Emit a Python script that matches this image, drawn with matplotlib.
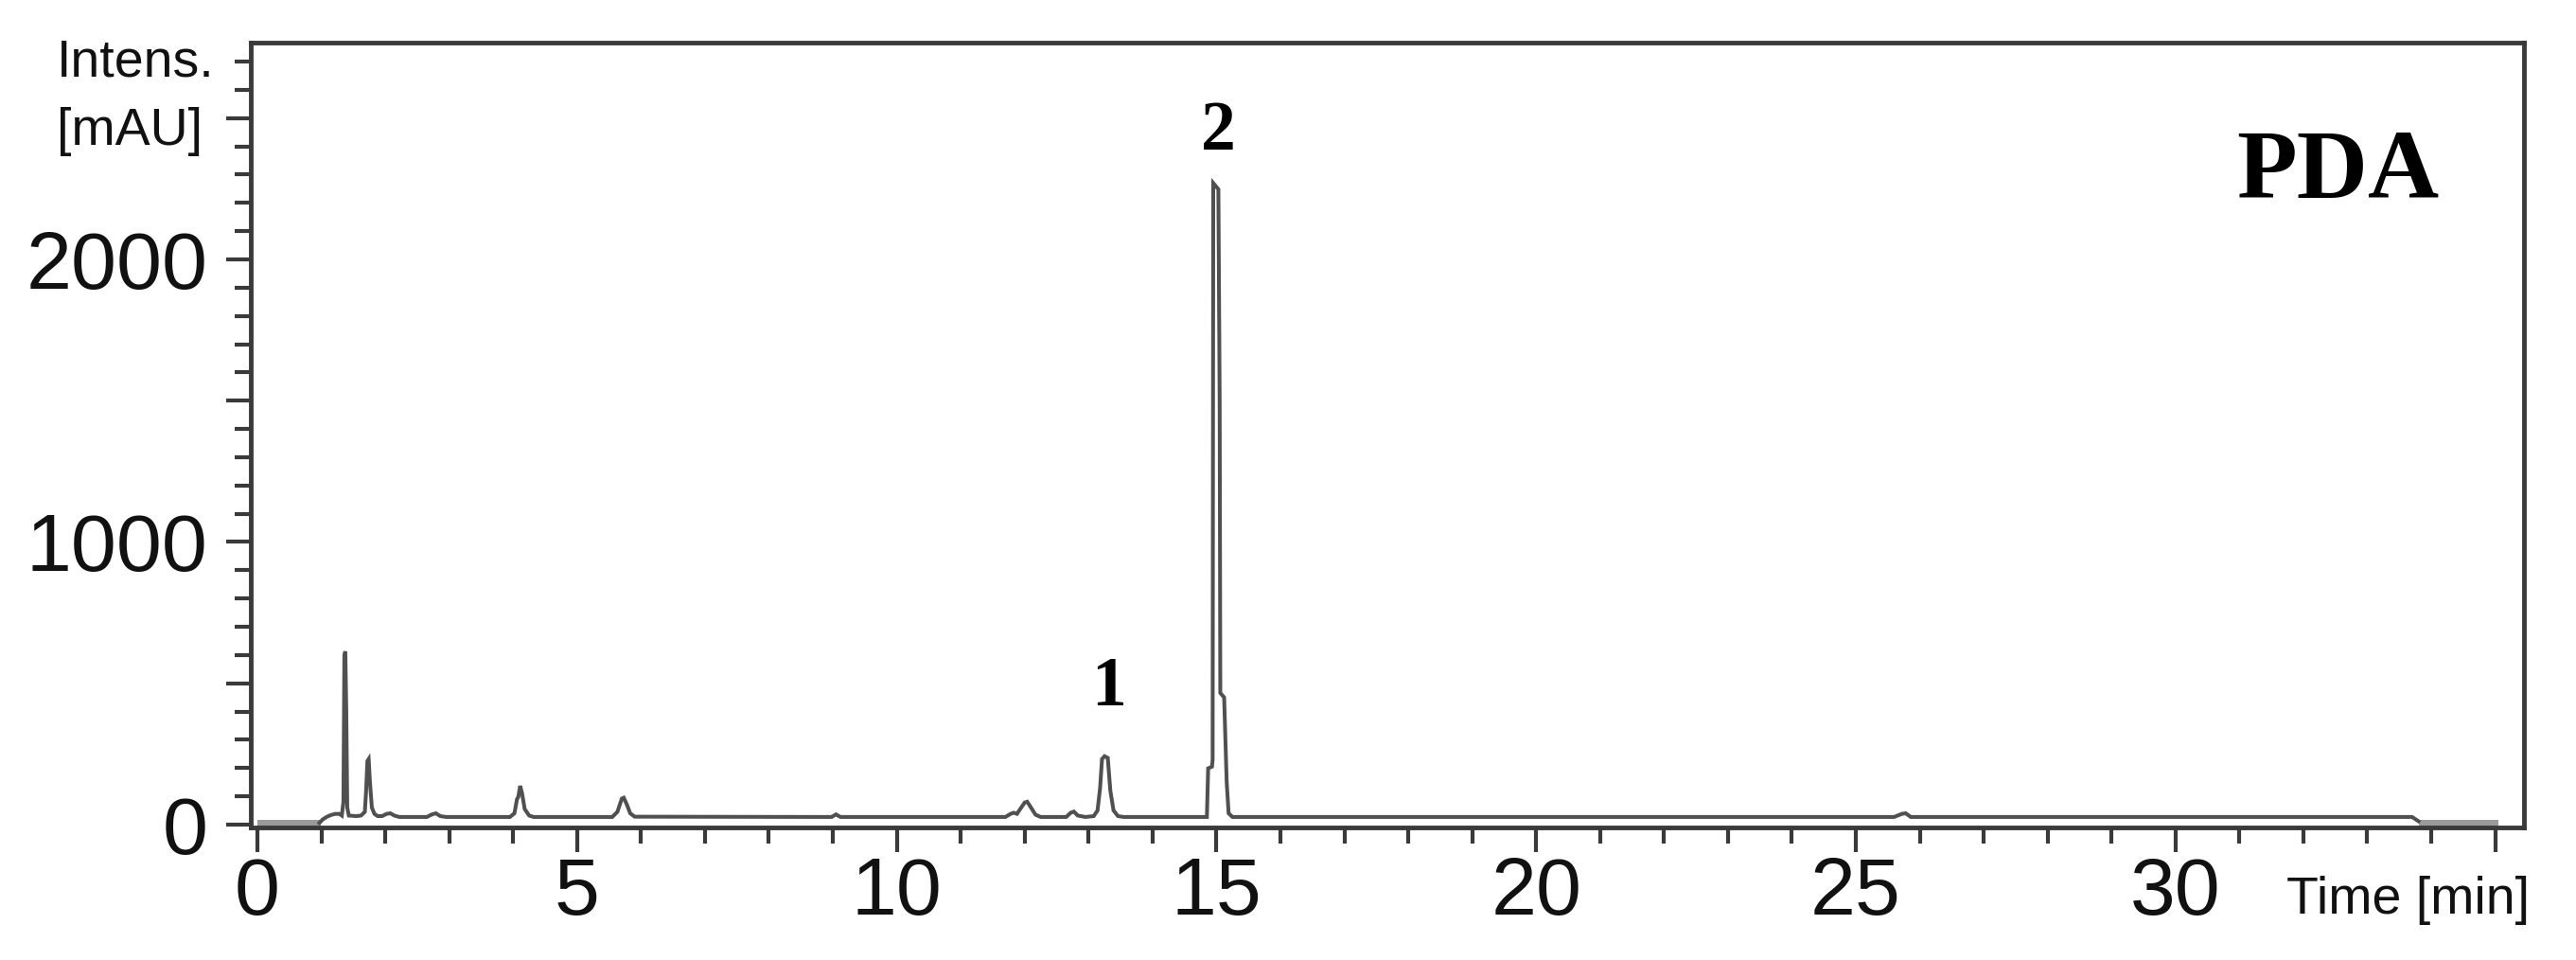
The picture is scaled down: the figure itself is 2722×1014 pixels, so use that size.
import matplotlib.pyplot as plt
from matplotlib.ticker import MultipleLocator, FixedLocator, FixedFormatter

# PDA chromatogram, vertices (time in min, intensity in mAU)
time_min = [0.97, 1.02, 1.08, 1.15, 1.22, 1.28, 1.32, 1.345, 1.36, 1.375, 1.39, 1.405, 1.43,
            1.55, 1.62, 1.68, 1.70, 1.72, 1.74, 1.76, 1.79, 1.83, 1.88, 1.95, 2.02, 2.08, 2.14,
            2.22, 2.65, 2.73, 2.79, 2.86, 2.95, 3.95, 4.02, 4.06, 4.08, 4.11, 4.14, 4.18, 4.25,
            4.32, 5.55, 5.63, 5.70, 5.73, 5.78, 5.83, 5.90, 8.98, 9.05, 9.12, 11.70, 11.78,
            11.83, 11.88, 11.93, 12.00, 12.04, 12.10, 12.17, 12.25, 12.65, 12.72, 12.77, 12.83,
            12.95, 13.08, 13.14, 13.18, 13.21, 13.25, 13.30, 13.34, 13.39, 13.46, 13.55, 14.85,
            14.87, 14.93, 14.94, 14.95, 15.03, 15.05, 15.06, 15.12, 15.16, 15.19, 15.25, 25.60,
            25.72, 25.78, 25.86, 33.70, 33.80]
intens_mau = [6, 18, 27, 34, 38, 38, 32, 80, 600, 613, 400, 60, 32,
              30, 32, 45, 120, 225, 232, 150, 60, 38, 30, 30, 38, 40, 32,
              27, 27, 36, 40, 30, 27, 27, 40, 90, 98, 137, 110, 55, 32,
              27, 27, 45, 92, 95, 70, 40, 28, 27, 36, 27, 27, 38,
              42, 38, 55, 78, 81, 60, 35, 27, 27, 42, 46, 32,
              27, 30, 50, 130, 232, 242, 236, 120, 50, 30, 27, 27,
              199, 205, 230, 2270, 2248, 1500, 466, 450, 150, 40, 27, 27,
              38, 40, 27, 27, 12]

# flat grey stretches at the start and end of the run
lead_t = [0.0, 0.99]
tail_t = [33.80, 35.05]
band_lo = -8
band_hi = 18

x_major = [0, 5, 10, 15, 20, 25, 30, 35]
x_labels = ['0', '5', '10', '15', '20', '25', '30', '']
y_major = [0, 500, 1000, 1500, 2000, 2500]
y_labels = ['0', '', '1000', '', '2000', '']

peak_names = ['1', '2']
peak_t = [13.31, 15.02]
peak_y = [422, 2389]

plt.rcParams['font.family'] = ['Liberation Sans', 'DejaVu Sans']

fig = plt.figure(figsize=(27.22, 10.14), dpi=100)
ax = fig.add_axes([0.09735, 0.1381, 0.88245, 0.8175])

ax.fill_between(lead_t, band_lo, band_hi, color='#9a9a9a', lw=0)
ax.fill_between(tail_t, band_lo, band_hi, color='#9a9a9a', lw=0)
ax.plot(time_min, intens_mau, color='#505050', lw=2.9, solid_joinstyle='miter')

ax.set_xlim(-0.104, 35.45)
ax.set_ylim(-10, 2767)

ax.xaxis.set_major_locator(FixedLocator(x_major))
ax.xaxis.set_major_formatter(FixedFormatter(x_labels))
ax.xaxis.set_minor_locator(MultipleLocator(1))
ax.yaxis.set_major_locator(FixedLocator(y_major))
ax.yaxis.set_major_formatter(FixedFormatter(y_labels))
ax.yaxis.set_minor_locator(MultipleLocator(100))

for s in ax.spines.values():
    s.set_linewidth(3.5)
    s.set_color('#3a3a3a')

ax.tick_params(which='major', direction='out', length=18.7, width=3, color='#3a3a3a',
               labelsize=62, labelcolor='#111111')
ax.tick_params(which='minor', direction='out', length=12.2, width=3, color='#3a3a3a')
ax.tick_params(axis='x', which='major', pad=3)
ax.tick_params(axis='y', which='major', pad=14)

for name, t, y in zip(peak_names, peak_t, peak_y):
    ax.text(t, y, name, ha='center', va='baseline', fontsize=53,
            family='Liberation Serif', fontweight='bold')

fig.text(0.9074, 0.7939, 'PDA', ha='center', va='baseline', fontsize=75,
         family='Liberation Serif', fontweight='bold')
fig.text(0.022, 0.921, 'Intens.', ha='left', va='baseline', fontsize=40, color='#111111')
fig.text(0.022, 0.849, '[mAU]', ha='left', va='baseline', fontsize=40, color='#111111')
fig.text(0.982, 0.0483, 'Time [min]', ha='right', va='baseline', fontsize=40, color='#111111')

fig.savefig('out.png', dpi=100)
